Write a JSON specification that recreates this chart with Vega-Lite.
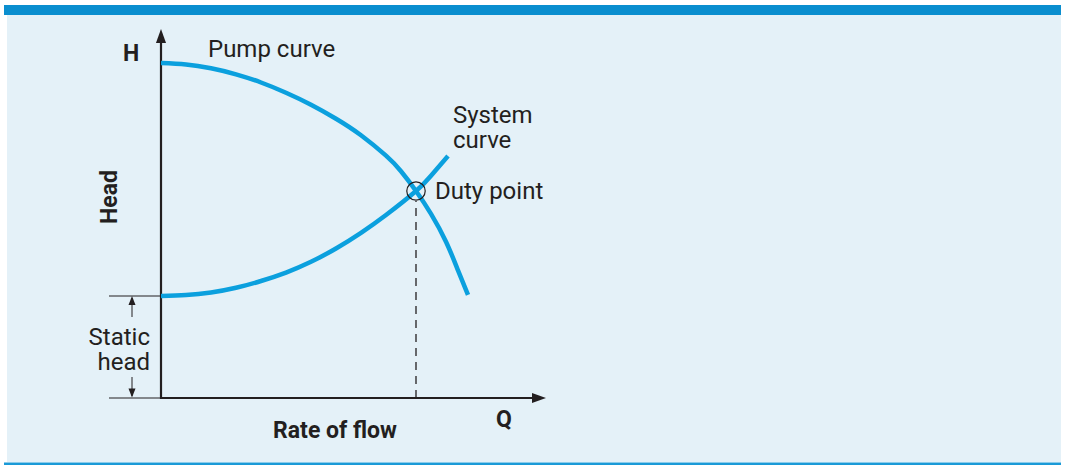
{
  "$schema": "https://vega.github.io/schema/vega-lite/v6.json",
  "width": 1068,
  "height": 465,
  "autosize": {"type": "fit", "contains": "padding"},
  "padding": 0,
  "background": "#ffffff",
  "config": {"view": {"stroke": null}},
  "datasets": {
    "pump": [
      {"q": 0, "h": 335}, {"q": 25, "h": 333.6}, {"q": 50, "h": 329.7}, {"q": 75, "h": 323.7},
      {"q": 100, "h": 315.5}, {"q": 125, "h": 305.3}, {"q": 150, "h": 293.3}, {"q": 175, "h": 279.3},
      {"q": 200, "h": 262.8}, {"q": 225, "h": 242.3}, {"q": 240, "h": 226.8}, {"q": 255, "h": 207},
      {"q": 270, "h": 184.1}, {"q": 285, "h": 156.3}, {"q": 297, "h": 127.7}, {"q": 307, "h": 103.2}
    ],
    "system": [
      {"q": 0, "h": 102}, {"q": 25, "h": 102.9}, {"q": 50, "h": 105.5}, {"q": 75, "h": 110.2},
      {"q": 100, "h": 117}, {"q": 125, "h": 125.4}, {"q": 150, "h": 136.2}, {"q": 175, "h": 149.5},
      {"q": 200, "h": 165.2}, {"q": 225, "h": 183}, {"q": 255, "h": 207}, {"q": 270, "h": 222.3},
      {"q": 287, "h": 242}
    ]
  },
  "layer": [
    {
      "data": {"values": [{"part": "panel", "q": -154, "q2": 900, "h": 383, "h2": -64}]},
      "mark": {"type": "rect", "color": "#e4f1f8"},
      "encoding": {
        "x": {"field": "q", "type": "quantitative", "scale": {"domain": [-161, 907], "nice": false, "zero": false}, "axis": null},
        "x2": {"field": "q2"},
        "y": {"field": "h", "type": "quantitative", "scale": {"domain": [-67, 398], "nice": false, "zero": false}, "axis": null},
        "y2": {"field": "h2"}
      }
    },
    {
      "data": {"values": [{"part": "top bar", "q": -157, "q2": 900, "h": 393, "h2": 383}]},
      "mark": {"type": "rect", "color": "#0a8ecf"},
      "encoding": {
        "x": {"field": "q", "type": "quantitative"}, "x2": {"field": "q2"},
        "y": {"field": "h", "type": "quantitative"}, "y2": {"field": "h2"}
      }
    },
    {
      "data": {"values": [{"part": "bottom line", "q": -157, "q2": 900, "h": -64.5, "h2": -67}]},
      "mark": {"type": "rect", "color": "#1a9ad7"},
      "encoding": {
        "x": {"field": "q", "type": "quantitative"}, "x2": {"field": "q2"},
        "y": {"field": "h", "type": "quantitative"}, "y2": {"field": "h2"}
      }
    },
    {
      "data": {"values": [{"q": 255, "h": 0, "h2": 197}]},
      "mark": {"type": "rule", "color": "#231f20", "strokeWidth": 1.3, "strokeDash": [8, 6]},
      "encoding": {
        "x": {"field": "q", "type": "quantitative"},
        "y": {"field": "h", "type": "quantitative"}, "y2": {"field": "h2"}
      }
    },
    {
      "data": {"values": [{"axis": "head", "q": 0, "h": -1, "h2": 358}]},
      "mark": {"type": "rule", "color": "#231f20", "strokeWidth": 2.2},
      "encoding": {
        "x": {"field": "q", "type": "quantitative"},
        "y": {"field": "h", "type": "quantitative"}, "y2": {"field": "h2"}
      }
    },
    {
      "data": {"values": [{"axis": "flow", "q": -1, "q2": 374, "h": 0}]},
      "mark": {"type": "rule", "color": "#231f20", "strokeWidth": 2.2},
      "encoding": {
        "x": {"field": "q", "type": "quantitative"}, "x2": {"field": "q2"},
        "y": {"field": "h", "type": "quantitative"}
      }
    },
    {
      "data": {"values": [{"q": -52, "q2": 0, "h": 102}, {"q": -52, "q2": 0, "h": 0}]},
      "mark": {"type": "rule", "color": "#231f20", "strokeWidth": 1},
      "encoding": {
        "x": {"field": "q", "type": "quantitative"}, "x2": {"field": "q2"},
        "y": {"field": "h", "type": "quantitative"}
      }
    },
    {
      "data": {"values": [{"q": -29, "h": 100, "h2": 81}, {"q": -29, "h": 21, "h2": 2}]},
      "mark": {"type": "rule", "color": "#231f20", "strokeWidth": 1},
      "encoding": {
        "x": {"field": "q", "type": "quantitative"},
        "y": {"field": "h", "type": "quantitative"}, "y2": {"field": "h2"}
      }
    },
    {
      "data": {"values": [{"q": 0, "h": 362}]},
      "mark": {"type": "point", "shape": "M0,-1L-0.72,1L0.72,1Z", "size": 196, "filled": true, "color": "#231f20", "opacity": 1},
      "encoding": {"x": {"field": "q", "type": "quantitative"}, "y": {"field": "h", "type": "quantitative"}}
    },
    {
      "data": {"values": [{"q": 378, "h": 0}]},
      "mark": {"type": "point", "shape": "M1,0L-1,-0.72L-1,0.72Z", "size": 196, "filled": true, "color": "#231f20", "opacity": 1},
      "encoding": {"x": {"field": "q", "type": "quantitative"}, "y": {"field": "h", "type": "quantitative"}}
    },
    {
      "data": {"values": [{"q": -29, "h": 97.5}]},
      "mark": {"type": "point", "shape": "M0,-1L-0.78,1L0.78,1Z", "size": 81, "filled": true, "color": "#231f20", "opacity": 1},
      "encoding": {"x": {"field": "q", "type": "quantitative"}, "y": {"field": "h", "type": "quantitative"}}
    },
    {
      "data": {"values": [{"q": -29, "h": 5}]},
      "mark": {"type": "point", "shape": "M0,1L-0.78,-1L0.78,-1Z", "size": 81, "filled": true, "color": "#231f20", "opacity": 1},
      "encoding": {"x": {"field": "q", "type": "quantitative"}, "y": {"field": "h", "type": "quantitative"}}
    },
    {
      "data": {"name": "pump"},
      "mark": {"type": "line", "color": "#0ba0de", "strokeWidth": 4.5, "interpolate": "natural", "strokeCap": "butt"},
      "encoding": {"x": {"field": "q", "type": "quantitative"}, "y": {"field": "h", "type": "quantitative"}}
    },
    {
      "data": {"name": "system"},
      "mark": {"type": "line", "color": "#0ba0de", "strokeWidth": 4.5, "interpolate": "natural", "strokeCap": "butt"},
      "encoding": {"x": {"field": "q", "type": "quantitative"}, "y": {"field": "h", "type": "quantitative"}}
    },
    {
      "data": {"values": [{"label": "Duty point", "q": 255, "h": 207}]},
      "mark": {"type": "point", "shape": "circle", "size": 340, "filled": false, "stroke": "#231f20", "strokeWidth": 1.2, "opacity": 1},
      "encoding": {"x": {"field": "q", "type": "quantitative"}, "y": {"field": "h", "type": "quantitative"}}
    },
    {
      "data": {"values": [
        {"text": "Pump curve", "q": 47, "h": 341},
        {"text": "System\ncurve", "q": 292, "h": 275},
        {"text": "Duty point", "q": 274, "h": 199}
      ]},
      "mark": {"type": "text", "align": "left", "baseline": "alphabetic", "lineBreak": "\n", "lineHeight": 25, "font": "Roboto", "fontSize": 24, "color": "#231f20"},
      "encoding": {"x": {"field": "q", "type": "quantitative"}, "y": {"field": "h", "type": "quantitative"}, "text": {"field": "text"}}
    },
    {
      "data": {"values": [
        {"text": "Static\nhead", "q": -11, "h": 53}
      ]},
      "mark": {"type": "text", "align": "right", "baseline": "alphabetic", "lineBreak": "\n", "lineHeight": 25, "font": "Roboto", "fontSize": 24, "color": "#231f20"},
      "encoding": {"x": {"field": "q", "type": "quantitative"}, "y": {"field": "h", "type": "quantitative"}, "text": {"field": "text"}}
    },
    {
      "data": {"values": [
        {"text": "H", "q": -30, "h": 337},
        {"text": "Rate of flow", "q": 174, "h": -40},
        {"text": "Q", "q": 343, "h": -29}
      ]},
      "mark": {"type": "text", "align": "center", "baseline": "alphabetic", "font": "Roboto", "fontSize": 23, "fontWeight": "bold", "color": "#231f20"},
      "encoding": {"x": {"field": "q", "type": "quantitative"}, "y": {"field": "h", "type": "quantitative"}, "text": {"field": "text"}}
    },
    {
      "data": {"values": [{"text": "Head", "q": -44, "h": 201}]},
      "mark": {"type": "text", "align": "center", "baseline": "alphabetic", "angle": 270, "font": "Roboto", "fontSize": 23, "fontWeight": "bold", "color": "#231f20"},
      "encoding": {"x": {"field": "q", "type": "quantitative"}, "y": {"field": "h", "type": "quantitative"}, "text": {"field": "text"}}
    }
  ]
}
